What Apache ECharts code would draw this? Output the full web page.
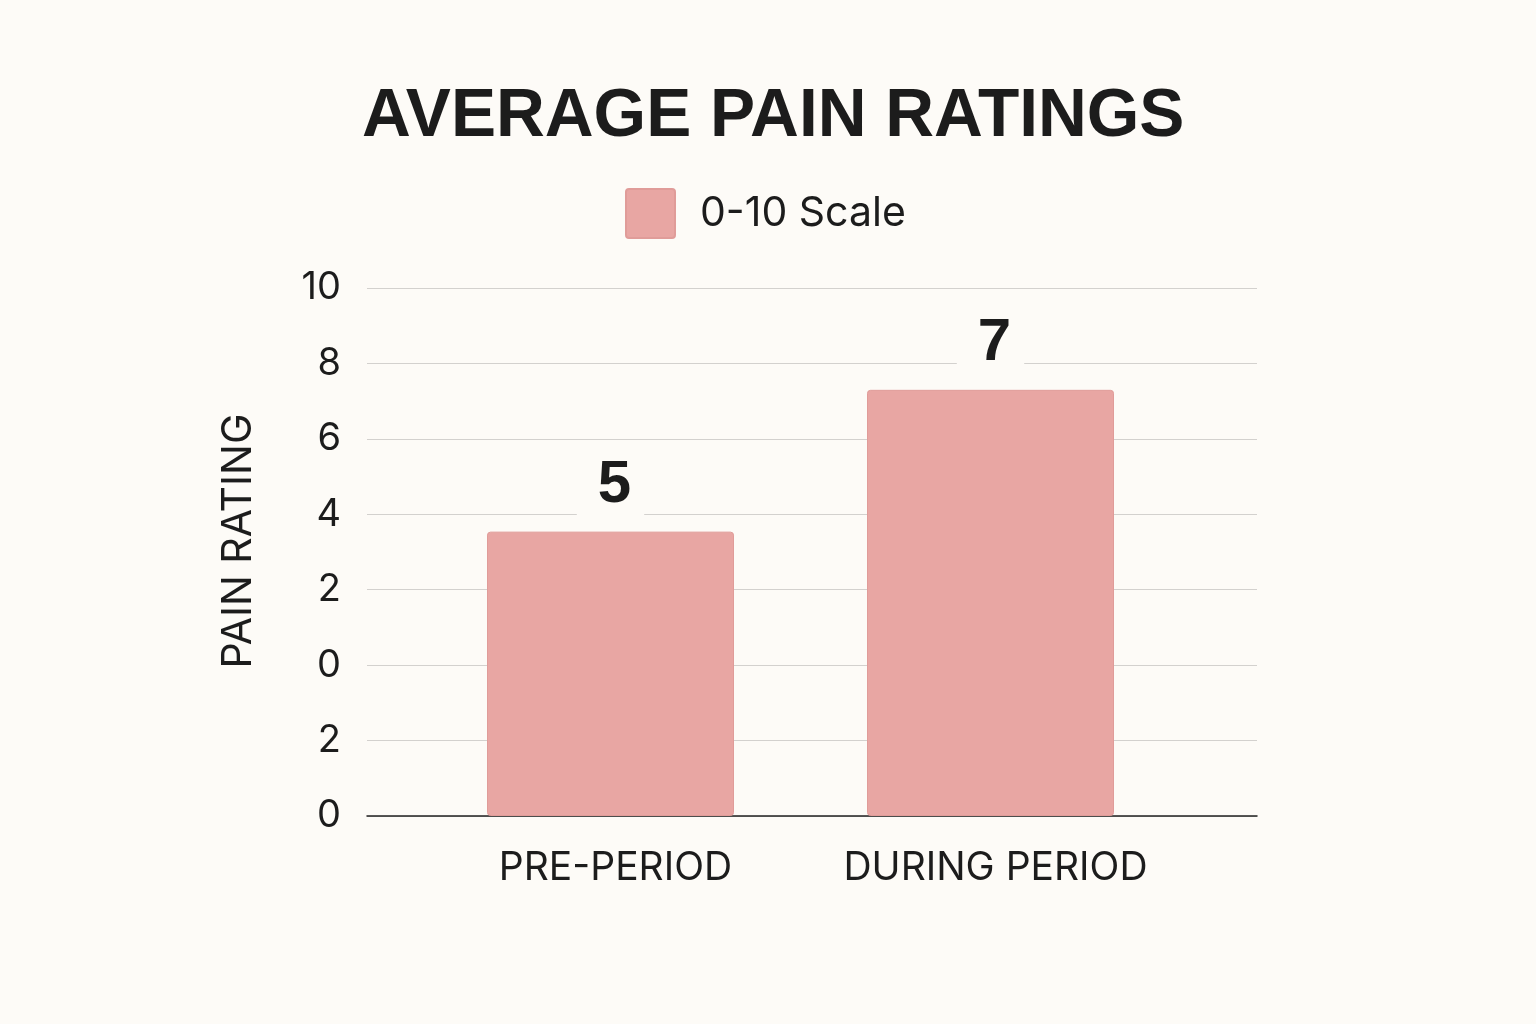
<!DOCTYPE html>
<html>
<head>
<meta charset="utf-8">
<script src="https://cdn.jsdelivr.net/npm/echarts@6/dist/echarts.min.js"></script>
<style>
html,body{margin:0;padding:0;background:#fdfbf7;}
#chart{width:1536px;height:1024px;}
</style>
</head>
<body>
<div id="chart"></div>
<script>
// ---- data ----
const categories = ['PRE-PERIOD', 'DURING PERIOD'];
const barLevels = [3.77, 5.65];          // bar heights in axis slots
const valueLabels = ['5', '7'];          // numbers printed above bars
const tickLabels = ['0', '2', '0', '2', '4', '6', '8', '10'];
const seriesName = '0-10 Scale';
const titleText = 'AVERAGE PAIN RATINGS';
const yAxisName = 'PAIN RATING';

const bg = '#fdfbf7';
const ink = '#1c1c1c';
const barColor = '#e8a6a3';

const chart = echarts.init(document.getElementById('chart'));
chart.setOption({
  backgroundColor: bg,
  animation: false,
  title: {
    text: titleText,
    left: 357,
    top: 78,
    textStyle: { fontFamily: 'Liberation Sans', fontWeight: 'bold', fontSize: 67.6, color: ink }
  },
  legend: {
    data: [seriesName],
    left: 620,
    top: 183,
    icon: 'path://M3,0 H46 A3,3 0 0 1 49,3 V46 A3,3 0 0 1 46,49 H3 A3,3 0 0 1 0,46 V3 A3,3 0 0 1 3,0 Z',
    itemWidth: 49,
    itemHeight: 49,
    textStyle: { fontFamily: 'Inter', fontSize: 41, color: ink, padding: [0, 0, 0, 20] }
  },
  grid: [
    { left: 367, right: 279, top: 288, bottom: 208 },
    { left: 420.5, right: 355.5, top: 288, bottom: 208 }
  ],
  xAxis: [
    {
      gridIndex: 0, type: 'value', min: 0, max: 1,
      axisLine: { show: true, onZero: false, lineStyle: { color: '#222', width: 1.5 } },
      axisTick: { show: false }, axisLabel: { show: false }, splitLine: { show: false }
    },
    {
      gridIndex: 1, type: 'category', data: categories,
      axisLine: { show: false }, axisTick: { show: false },
      axisLabel: { interval: 0, fontFamily: 'Inter', fontSize: 39, color: ink, margin: 33, padding: [0, 0, 0, 10] }
    }
  ],
  yAxis: [
    {
      gridIndex: 0, type: 'value', min: 0, max: tickLabels.length - 1, interval: 1,
      name: yAxisName, nameLocation: 'middle', nameGap: 108,
      nameTextStyle: { fontFamily: 'Inter', fontSize: 41, color: ink, padding: [0, 0, 0, 22] },
      axisLine: { show: false }, axisTick: { show: false },
      axisLabel: {
        fontFamily: 'Inter', fontSize: 38, color: ink, margin: 26,
        formatter: function (v) { return tickLabels[Math.round(v)]; }
      },
      splitLine: { show: true, lineStyle: { color: '#d3d1ce', width: 1.2 } }
    },
    {
      gridIndex: 1, type: 'value', min: 0, max: tickLabels.length - 1, interval: 1,
      show: false, splitLine: { show: false }
    }
  ],
  series: [
    {
      name: seriesName,
      type: 'bar',
      xAxisIndex: 1, yAxisIndex: 1,
      data: barLevels,
      barWidth: 247,
      itemStyle: { color: barColor, borderColor: '#e09c99', borderWidth: 1, borderRadius: 3 },
      label: {
        show: true,
        position: 'top',
        distance: 16,
        formatter: function (p) { return valueLabels[p.dataIndex]; },
        fontFamily: 'Liberation Sans', fontWeight: 'bold', fontSize: 60, color: ink,
        backgroundColor: bg,
        padding: [0, 13, 0, 21]
      }
    }
  ]
});
</script>
</body>
</html>
